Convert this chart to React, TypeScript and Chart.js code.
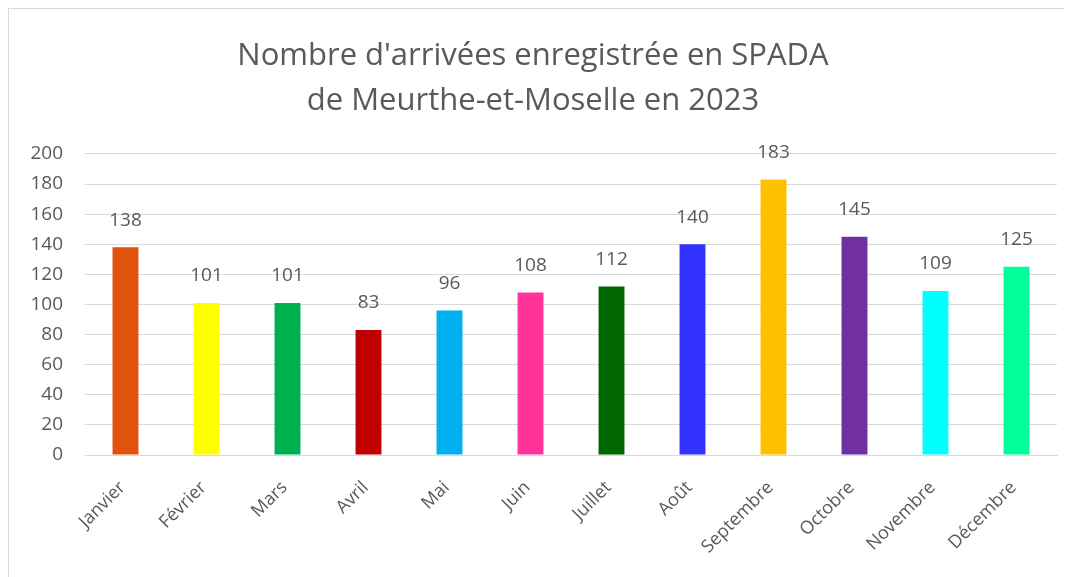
import React, { useEffect, useRef } from "react";
import { Chart, registerables } from "chart.js";

Chart.register(...registerables);

const months = ["Janvier", "Février", "Mars", "Avril", "Mai", "Juin", "Juillet", "Août", "Septembre", "Octobre", "Novembre", "Décembre"];
const arrivals = [138, 101, 101, 83, 96, 108, 112, 140, 183, 145, 109, 125];
const barColors = ["#E0520E", "#FFFF00", "#00B050", "#C00000", "#00B0F0", "#FF3399", "#006600", "#3333FF", "#FFC000", "#7030A0", "#00FFFF", "#00FF99"];
const titleLines = ["Nombre d'arrivées enregistrée en SPADA", "de Meurthe-et-Moselle en 2023"];

const FONT = "'Open Sans', 'Noto Sans', sans-serif";
const TEXT = "#595959";

const valueLabels = {
  id: "valueLabels",
  afterDatasetsDraw(chart: any) {
    const ctx = chart.ctx;
    const meta = chart.getDatasetMeta(0);
    const data = chart.data.datasets[0].data;
    ctx.save();
    ctx.fillStyle = TEXT;
    ctx.font = `19px ${FONT}`;
    ctx.textAlign = "center";
    ctx.textBaseline = "middle";
    meta.data.forEach((bar: any, i: number) => {
      ctx.fillText(String(data[i]), bar.x, bar.y - 27);
    });
    ctx.restore();
  },
};

export default function App() {
  const ref = useRef<HTMLCanvasElement>(null);
  useEffect(() => {
    document.body.style.overflow = "hidden";
    const chart = new Chart(ref.current!, {
      type: "bar",
      data: {
        labels: months,
        datasets: [
          {
            data: arrivals,
            backgroundColor: barColors,
            barPercentage: 0.32,
            categoryPercentage: 1,
          },
        ],
      },
      options: {
        animation: false,
        responsive: false,
        maintainAspectRatio: false,
        layout: { padding: { left: 0, right: 16, top: 0, bottom: 0 } },
        plugins: {
          legend: { display: false },
          tooltip: { enabled: false },
          title: {
            display: true,
            text: titleLines,
            color: TEXT,
            font: { family: FONT, size: 31, weight: "normal" as any, lineHeight: 1.45 },
            padding: { top: 25, bottom: 30 },
          },
        },
        scales: {
          x: {
            grid: { display: false, drawTicks: false },
            border: { display: true, color: "#d9d9d9", width: 1 },
            ticks: {
              color: TEXT,
              font: { family: FONT, size: 18 },
              minRotation: 45,
              maxRotation: 45,
              padding: 22,
              labelOffset: -3,
            },
            afterFit: (s: any) => {
              s.height = 122;
            },
          },
          y: {
            min: 0,
            max: 200,
            ticks: {
              stepSize: 20,
              color: TEXT,
              font: { family: FONT, size: 19 },
              padding: 22,
            },
            grid: { color: "#d9d9d9", lineWidth: 1, drawTicks: false },
            border: { display: false },
            afterFit: (s: any) => {
              s.width = 76;
            },
          },
        },
      },
      plugins: [valueLabels],
    });
    return () => chart.destroy();
  }, []);
  return (
    <div
      style={{
        width: 1064,
        height: 568,
        borderTop: "1px solid #d9d9d9",
        borderLeft: "1px solid #d9d9d9",
        background: "#fff",
        overflow: "hidden",
      }}
    >
      <canvas ref={ref} width={1064} height={568} style={{ display: "block" }} />
    </div>
  );
}
